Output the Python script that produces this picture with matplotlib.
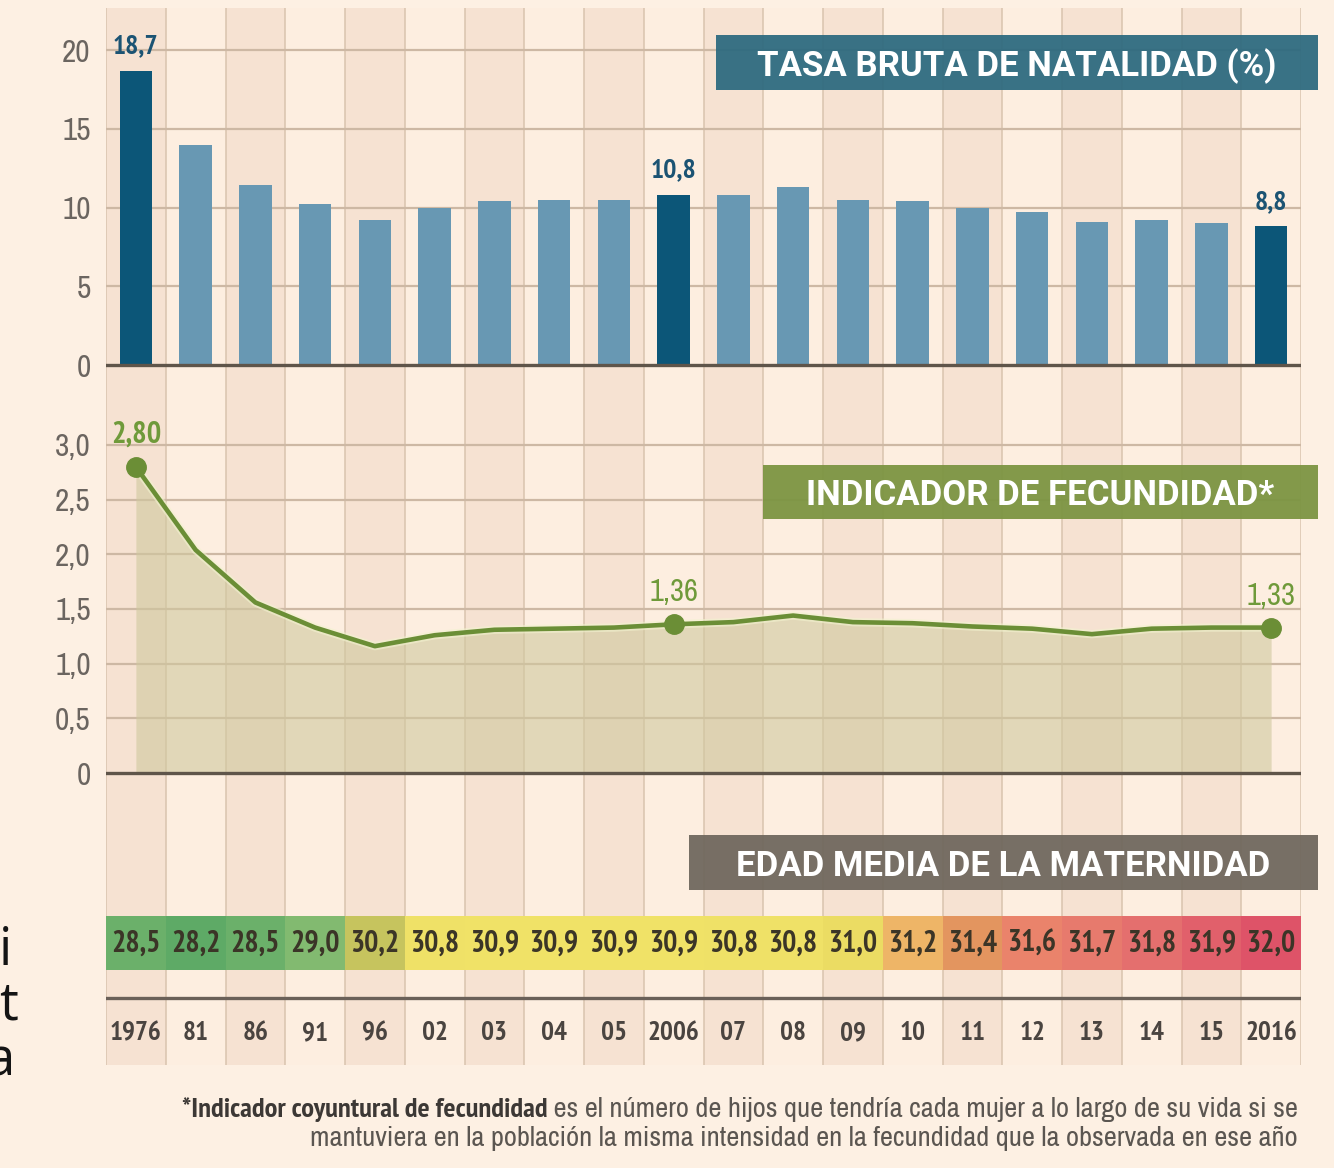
import os
import numpy as np
import matplotlib
matplotlib.use("Agg")
import matplotlib.pyplot as plt
from matplotlib import font_manager
from matplotlib.font_manager import FontProperties
from matplotlib.colors import LinearSegmentedColormap, Normalize
from matplotlib.patches import Rectangle
from matplotlib.ticker import FuncFormatter
import matplotlib.patheffects as pe

# data
years = ["1976", "81", "86", "91", "96", "02", "03", "04", "05", "2006",
         "07", "08", "09", "10", "11", "12", "13", "14", "15", "2016"]
natalidad = [18.7, 14.0, 11.4, 10.2, 9.2, 10.0, 10.4, 10.5, 10.5, 10.8,
             10.8, 11.3, 10.5, 10.4, 10.0, 9.7, 9.1, 9.2, 9.0, 8.8]
fecundidad = [2.80, 2.04, 1.56, 1.33, 1.16, 1.26, 1.31, 1.32, 1.33, 1.36,
              1.38, 1.44, 1.38, 1.37, 1.34, 1.32, 1.27, 1.32, 1.33, 1.33]
edad = [28.5, 28.2, 28.5, 29.0, 30.2, 30.8, 30.9, 30.9, 30.9, 30.9,
        30.8, 30.8, 31.0, 31.2, 31.4, 31.6, 31.7, 31.8, 31.9, 32.0]
destacados = [0, 9, 19]

title_nat = "TASA BRUTA DE NATALIDAD (%)"
title_fec = "INDICADOR DE FECUNDIDAD*"
title_edad = "EDAD MEDIA DE LA MATERNIDAD"
nota_bold = "*Indicador coyuntural de fecundidad"
nota_1 = " es el número de hijos que tendría cada mujer a lo largo de su vida si se"
nota_2 = "mantuviera en la población la misma intensidad en la fecundidad que la observada en ese año"

# colours
BG = "#fdf0e3"
STRIPE_D = "#f6e2d2"
STRIPE_L = "#fdeee0"
VLINE = "#d9c3ae"
HGRID = "#cdb8a4"
ZERO = "#5f554a"
TICK = "#6b6560"
BAR_D = "#0c5678"
BAR_L = "#6898b3"
GREEN = "#6b8e36"


# look for a narrow / condensed face, the original uses a condensed type
def find_cond(bold):
    best = None
    for f in font_manager.fontManager.ttflist:
        base = os.path.basename(f.fname)
        txt = f.name + " " + base
        if f.style != "normal":
            continue
        if "Narrow" in txt:
            pref = 0
        elif "SemiCondensed" in txt or "ExtraCondensed" in txt or "UltraCondensed" in txt:
            continue
        elif "Condensed" in txt or str(f.stretch) == "condensed":
            pref = 1
        else:
            continue
        w = f.weight if isinstance(f.weight, int) else font_manager.weight_dict.get(f.weight, 400)
        if bold != (w >= 600):
            continue
        key = (pref, abs(w - (700 if bold else 400)))
        if best is None or key < best[0]:
            best = (key, f.fname)
    return best[1] if best else None

COND_R = find_cond(False)
COND_B = find_cond(True)
HAVE_COND = COND_R is not None and COND_B is not None


def fp(size, bold=False):
    if HAVE_COND:
        return FontProperties(fname=COND_B if bold else COND_R, size=size)
    return FontProperties(family="Roboto", weight="bold" if bold else "normal",
                          size=size * 0.86)

plt.rcParams["font.family"] = ["Roboto", "DejaVu Sans"]

W, H = 1334, 1168
fig = plt.figure(figsize=(W / 100, H / 100), dpi=100, facecolor=BG)

def px_axes(x0, y0, x1, y1):
    return fig.add_axes([x0 / W, 1 - y1 / H, (x1 - x0) / W, (y1 - y0) / H])

L, R = 106, 1301
ax1 = px_axes(L, 8, R, 390)
ax2 = px_axes(L, 390, R, 780)
ax3 = px_axes(L, 780, R, 1065)

x = np.arange(len(years))
for ax in (ax1, ax2, ax3):
    ax.set_xlim(-0.5, len(years) - 0.5)
    ax.set_facecolor("none")
    for s in ax.spines.values():
        s.set_visible(False)
    for i in x:
        ax.axvspan(i - 0.5, i + 0.5, color=STRIPE_D if i % 2 == 0 else STRIPE_L,
                   lw=0, zorder=0)
    for b in np.arange(-0.5, len(years), 1.0):
        ax.axvline(b, color=VLINE, lw=1.1, zorder=1)
    ax.set_xticks([])
    ax.tick_params(axis="y", length=0, pad=11, labelcolor=TICK)

def coma(v, pos=None):
    if v == 0:
        return "0"
    return ("%.1f" % v).replace(".", ",")

# --- birth rate bars
ax1.set_ylim(-1.587, 22.67)
ax1.set_yticks([0, 5, 10, 15, 20])
ax1.yaxis.set_major_formatter(FuncFormatter(lambda v, p: "%d" % v))
for g in [5, 10, 15, 20]:
    ax1.axhline(g, color=HGRID, lw=1.6, zorder=1)
colors = [BAR_D if i in destacados else BAR_L for i in x]
ax1.bar(x, natalidad, width=0.54, color=colors, zorder=3)
ax1.axhline(0, color=ZERO, lw=2.4, zorder=4)
for i in destacados:
    ax1.annotate(coma(natalidad[i]), (i, natalidad[i]), xytext=(0, 9),
                 textcoords="offset points", ha="center", va="bottom",
                 fontproperties=fp(20, True), color="#1b5373")

# --- fertility line
ax2.set_ylim(-0.064, 3.503)
ax2.set_yticks(np.arange(0, 3.01, 0.5))
ax2.yaxis.set_major_formatter(FuncFormatter(coma))
for g in np.arange(0.5, 3.01, 0.5):
    ax2.axhline(g, color=HGRID, lw=1.6, zorder=1)
ax2.fill_between(x, fecundidad, 0, color="#cfc89e", alpha=0.6, lw=0, zorder=2)
ax2.plot(x, fecundidad, color=GREEN, lw=3.3, zorder=4, solid_joinstyle="round",
         path_effects=[pe.Stroke(linewidth=6, foreground="#f2f3cf", alpha=0.6), pe.Normal()])
ax2.plot(x[destacados], np.array(fecundidad)[destacados], "o", color=GREEN,
         ms=14, zorder=5)
ax2.axhline(0, color=ZERO, lw=2.4, zorder=4)
for i in destacados:
    ax2.annotate(("%.2f" % fecundidad[i]).replace(".", ","),
                 (i, fecundidad[i]), xytext=(0, 13), textcoords="offset points",
                 ha="center", va="bottom", fontproperties=fp(22, i == 0),
                 color="#6f9a3a")

for ax in (ax1, ax2):
    for lbl in ax.get_yticklabels():
        lbl.set_fontproperties(fp(22.5))

# --- maternity age row + years
ax3.set_ylim(285, 0)
ax3.set_yticks([])
cmap = LinearSegmentedColormap.from_list("edad", [
    (0.00, "#5eaa66"), (0.21, "#82ba70"), (0.526, "#c6c45e"), (0.70, "#f2e468"),
    (0.737, "#ebdc63"), (0.789, "#efb767"), (0.842, "#e3955f"), (0.895, "#ea846b"),
    (0.947, "#e4706e"), (1.00, "#de5368")])
norm = Normalize(min(edad), max(edad))
ax3.pcolormesh(np.arange(len(years) + 1) - 0.5, [136, 190], np.array([edad]),
               cmap=cmap, norm=norm, zorder=2, shading="flat")
for i, v in enumerate(edad):
    ax3.text(i, 164, coma(v), ha="center", va="center", fontproperties=fp(21.5, True),
             color="#3b3527", zorder=3)
ax3.axhline(218, color="#6a6058", lw=2.4, zorder=3)
for i, y in enumerate(years):
    ax3.text(i, 253, y, ha="center", va="center", fontproperties=fp(19.5, True),
             color="#4a4440", zorder=3)

# --- title boxes
def caja(x0, y0, x1, y1, color, texto):
    fig.add_artist(Rectangle((x0 / W, 1 - y1 / H), (x1 - x0) / W, (y1 - y0) / H,
                             transform=fig.transFigure, color=color, alpha=0.94,
                             lw=0, zorder=5))
    fig.text((x0 + x1) / 2 / W, 1 - (y0 + y1) / 2 / H, texto, ha="center",
             va="center_baseline", color="white", fontsize=25, weight="bold",
             family=["Roboto", "DejaVu Sans"], zorder=6)

caja(716, 35, 1318, 90, "#2d6a7f", title_nat)
caja(763, 465, 1318, 519, "#7b9441", title_fec)
caja(689, 835, 1318, 890, "#6f675d", title_edad)

# --- footnote
r = fig.canvas.get_renderer()
t1 = fig.text(1298 / W, 1 - 1117 / H, nota_1, ha="right", va="baseline",
              fontproperties=fp(20.5), color="#5b5651")
bb = t1.get_window_extent(renderer=r)
fig.text(bb.x0 / W, 1 - 1117 / H, nota_bold, ha="right", va="baseline",
         fontproperties=fp(20.5, True), color="#3c3835")
fig.text(1298 / W, 1 - 1146 / H, nota_2, ha="right", va="baseline",
         fontproperties=fp(20.5), color="#5b5651")

# stray letters cut off at the left edge
for ch, xx, yy in [("i", -1, 965), ("t", -1, 1020), ("a", -14, 1075)]:
    fig.text(xx / W, 1 - yy / H, ch, ha="left", va="baseline", fontsize=38,
             color="#141414", family=["Open Sans", "DejaVu Sans"])

fig.savefig("out.png", dpi=100, facecolor=BG)
